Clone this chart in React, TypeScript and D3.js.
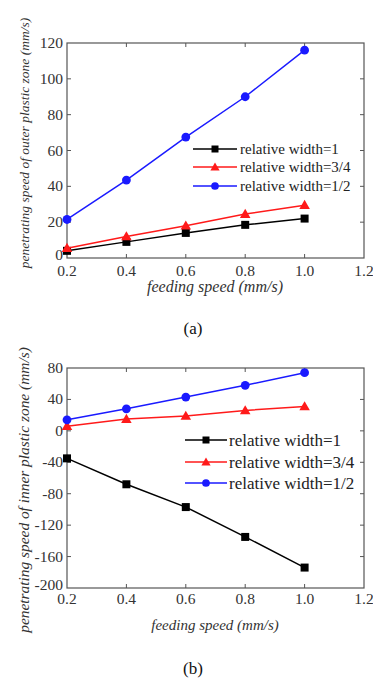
import React from "react";
import * as d3 from "d3";

const xValues = [0.2, 0.4, 0.6, 0.8, 1.0];
const xTicks = [0.2, 0.4, 0.6, 0.8, 1.0, 1.2];

const outerW1 = [4, 9, 14, 18.5, 22];
const outerW34 = [5.5, 12, 18, 24.5, 29.5];
const outerW12 = [21.5, 43.5, 67.5, 90, 116];
const outerYTicks = [0, 20, 40, 60, 80, 100, 120];

const innerW1 = [-35, -68, -97, -135, -174];
const innerW34 = [6, 15, 19, 26, 31];
const innerW12 = [14, 28, 43, 58, 74];
const innerYTicks = [-200, -160, -120, -80, -40, 0, 40, 80];

const seriesNames = ["relative width=1", "relative width=3/4", "relative width=1/2"];
const seriesColors = ["#000000", "#ff1a1a", "#1a1aff"];
const seriesShapes = ["square", "triangle", "circle"];

const SERIF = "Liberation Serif";

function Marker({ shape, x, y, color, s }: { shape: string; x: number; y: number; color: string; s: number }) {
  if (shape === "square") {
    const sym = d3.symbol(d3.symbolSquare, s * s)();
    return <path d={sym || ""} transform={`translate(${x},${y})`} fill={color} />;
  }
  if (shape === "triangle") {
    const sym = d3.symbol(d3.symbolTriangle, s * s * 0.75)();
    return <path d={sym || ""} transform={`translate(${x},${y + 0.8})`} fill={color} />;
  }
  const sym = d3.symbol(d3.symbolCircle, s * s * 0.95)();
  return <path d={sym || ""} transform={`translate(${x},${y})`} fill={color} />;
}

type PanelProps = {
  top: number;
  bottom: number;
  yDomain: [number, number];
  yTicks: number[];
  series: number[][];
  yLabel: string;
  yLabelSize: number;
  yLabelCenter: number;
  xTickBaseline: number;
  xLabelBaseline: number;
  xLabelSize: number;
  panelLabel: string;
  panelBaseline: number;
  legend: { x0: number; x1: number; textX: number; ys: number[]; size: number };
  markerSize: number;
};

function Panel(p: PanelProps) {
  const left = 67;
  const right = 364;
  const x = d3.scaleLinear().domain([0.2, 1.2]).range([left, right]);
  const y = d3.scaleLinear().domain(p.yDomain).range([p.bottom, p.top]);
  const line = d3
    .line<number>()
    .x((_, i) => x(xValues[i]))
    .y((d) => y(d));
  const tl = 4;
  const axisColor = "#555";
  const textColor = "#333";
  return (
    <g>
      <rect x={left} y={p.top} width={right - left} height={p.bottom - p.top} fill="#fff" stroke={axisColor} strokeWidth={1.2} />
      {xTicks.slice(1, -1).map((t) => (
        <g key={"xt" + t}>
          <line x1={x(t)} x2={x(t)} y1={p.bottom} y2={p.bottom - tl} stroke={axisColor} />
          <line x1={x(t)} x2={x(t)} y1={p.top} y2={p.top + tl} stroke={axisColor} />
        </g>
      ))}
      {p.yTicks.slice(1, -1).map((t) => (
        <g key={"yt" + t}>
          <line x1={left} x2={left + tl} y1={y(t)} y2={y(t)} stroke={axisColor} />
          <line x1={right} x2={right - tl} y1={y(t)} y2={y(t)} stroke={axisColor} />
        </g>
      ))}
      {xTicks.map((t) => (
        <text key={"xl" + t} x={x(t)} y={p.xTickBaseline} textAnchor="middle" fontFamily={SERIF} fontSize={15.5} fill={textColor}>
          {t.toFixed(1)}
        </text>
      ))}
      {p.yTicks.map((t, i) => (
        <text key={"yl" + t} x={63} y={y(t) + (i === 0 ? 2 : 5)} textAnchor="end" fontFamily={SERIF} fontSize={15.5} fill={textColor}>
          {t}
        </text>
      ))}
      <text
        transform={`translate(29,${p.yLabelCenter}) rotate(-90)`}
        textAnchor="middle"
        fontFamily={SERIF}
        fontStyle="italic"
        fontSize={p.yLabelSize}
        fill={textColor}
      >
        {p.yLabel}
      </text>
      <text x={215} y={p.xLabelBaseline} textAnchor="middle" fontFamily={SERIF} fontStyle="italic" fontSize={p.xLabelSize} fill={textColor}>
        feeding speed (mm/s)
      </text>
      <text x={193} y={p.panelBaseline} textAnchor="middle" fontFamily={SERIF} fontSize={17} fill="#111">
        {p.panelLabel}
      </text>
      {p.series.map((s, si) => (
        <g key={"s" + si}>
          <path d={line(s) || ""} fill="none" stroke={seriesColors[si]} strokeWidth={1.5} />
          {s.map((v, i) => (
            <Marker key={i} shape={seriesShapes[si]} x={x(xValues[i])} y={y(v)} color={seriesColors[si]} s={p.markerSize} />
          ))}
        </g>
      ))}
      {seriesNames.map((n, i) => (
        <g key={"lg" + i}>
          <line x1={p.legend.x0} x2={p.legend.x1} y1={p.legend.ys[i]} y2={p.legend.ys[i]} stroke={seriesColors[i]} strokeWidth={1.5} />
          <Marker shape={seriesShapes[i]} x={(p.legend.x0 + p.legend.x1) / 2} y={p.legend.ys[i]} color={seriesColors[i]} s={p.markerSize - 1} />
          <text x={p.legend.textX} y={p.legend.ys[i] + p.legend.size * 0.33} fontFamily={SERIF} fontSize={p.legend.size} fill="#222">
            {n}
          </text>
        </g>
      ))}
    </g>
  );
}

export default function App() {
  return (
    <svg
      width={373}
      height={679}
      style={{ position: "absolute", left: 0, top: 0, background: "#fff" }}
      xmlns="http://www.w3.org/2000/svg"
    >
      <Panel
        top={43}
        bottom={258}
        yDomain={[0, 120]}
        yTicks={outerYTicks}
        series={[outerW1, outerW34, outerW12]}
        yLabel="penetrating speed of outer plastic zone (mm/s)"
        yLabelSize={13.5}
        yLabelCenter={143}
        xTickBaseline={276}
        xLabelBaseline={292}
        xLabelSize={16}
        panelLabel="(a)"
        panelBaseline={334}
        legend={{ x0: 193, x1: 237, textX: 240, ys: [149, 167, 186], size: 15 }}
        markerSize={8}
      />
      <Panel
        top={368}
        bottom={588}
        yDomain={[-200, 80]}
        yTicks={innerYTicks}
        series={[innerW1, innerW34, innerW12]}
        yLabel="penetrating speed of inner plastic zone (mm/s)"
        yLabelSize={15.4}
        yLabelCenter={490}
        xTickBaseline={604}
        xLabelBaseline={630}
        xLabelSize={15}
        panelLabel="(b)"
        panelBaseline={674}
        legend={{ x0: 185, x1: 227, textX: 229, ys: [440, 462, 483], size: 17 }}
        markerSize={8}
      />
    </svg>
  );
}
